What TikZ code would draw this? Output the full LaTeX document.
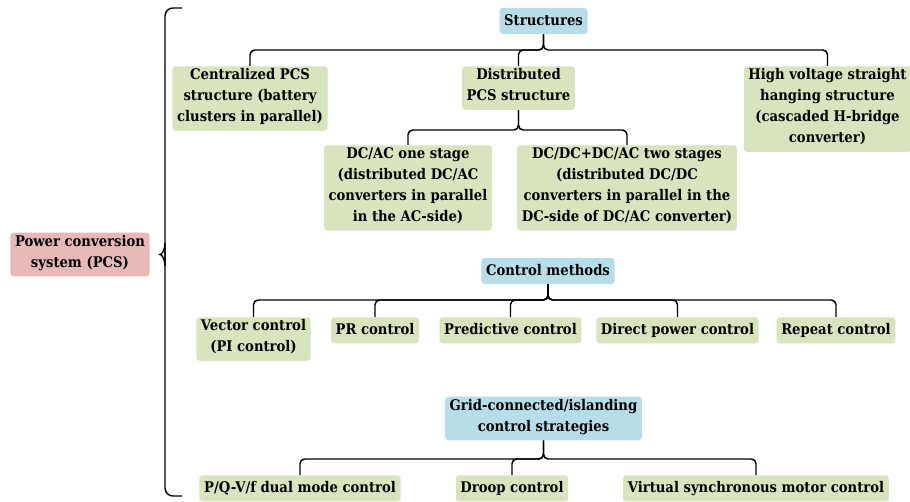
\documentclass[tikz,border=0pt]{standalone}
\usepackage{fontspec}
\setmainfont{DejaVu Serif Condensed}
\usepackage{tikz}

\definecolor{gbox}{RGB}{215,228,189}
\definecolor{bbox}{RGB}{183,222,232}
\definecolor{rbox}{RGB}{230,185,184}

\begin{document}
\begin{tikzpicture}
[x=0.75pt,y=-0.75pt,
 bx/.style={rounded corners=2.5pt,align=center,inner xsep=3.5pt,inner ysep=1.9pt,
   font=\fontsize{11}{15.75}\selectfont\bfseries,
   execute at begin node=\strut,execute at end node=\strut},
 gb/.style={bx,fill=gbox,anchor=north},
 bb/.style={bx,fill=bbox},
 ln/.style={draw=black,line width=1.1pt,rounded corners=3.5pt}]
\useasboundingbox (0,0) rectangle (910,502);

\node[bx,fill=rbox] (pcs) at (80,254.5) {Power conversion\\system (PCS)};

\node[bb] (str) at (543.5,21) {Structures};
\node[gb] (cen) at (250,66) {Centralized PCS\\structure (battery\\clusters in parallel)};
\node[gb] (dis) at (518.5,66) {Distributed\\PCS structure};
\node[gb] (hv) at (827.5,66) {High voltage straight\\hanging structure\\(cascaded H-bridge\\converter)};
\node[gb] (one) at (408,145) {DC/AC one stage\\(distributed DC/AC\\converters in parallel\\in the AC-side)};
\node[gb] (two) at (627,145) {DC/DC+DC/AC two stages\\(distributed DC/DC\\converters in parallel in the\\DC-side of DC/AC converter)};

\node[bb] (ctl) at (548,271) {Control methods};
\node[gb] (vec) at (253.5,317) {Vector control\\(PI control)};
\node[gb] (pr) at (375,317) {PR control};
\node[gb] (pre) at (510.5,317) {Predictive control};
\node[gb] (dpc) at (677.5,317) {Direct power control};
\node[gb] (rep) at (836,317) {Repeat control};

\node[bb] (grid) at (543.5,418.5) {Grid-connected/islanding\\control strategies};
\node[gb] (pq) at (300,475) {P/Q-V/f dual mode control};
\node[gb] (dro) at (512,475) {Droop control};
\node[gb] (vsm) at (756,475) {Virtual synchronous motor control};

\coordinate (s0) at (0,50);
\coordinate (d0) at (0,130);
\coordinate (c0) at (0,300);
\coordinate (g0) at (0,459);

\foreach \c in {cen,dis,hv}
  \draw[ln] (str.south) |- (\c.north |- s0) -- (\c.north);
\foreach \c in {one,two}
  \draw[ln] (dis.south) |- (\c.north |- d0) -- (\c.north);
\foreach \c in {vec,pr,pre,dpc,rep}
  \draw[ln] (ctl.south) |- (\c.north |- c0) -- (\c.north);
\foreach \c in {pq,dro,vsm}
  \draw[ln] (grid.south) |- (\c.north |- g0) -- (\c.north);

\path (pcs.east) +(6,0) coordinate (tip);
\coordinate (bt) at (182,8);
\coordinate (bb) at (182,496);
\draw[ln,rounded corners=6pt] (bt) -| ([yshift=-8]tip -| 165,0);
\draw[ln] ([yshift=-8.5]tip -| 165,0) .. controls ([yshift=-3]tip -| 165,0) and ([xshift=4]tip) .. (tip)
  .. controls ([xshift=4]tip) and ([yshift=3]tip -| 165,0) .. ([yshift=8.5]tip -| 165,0);
\draw[ln,rounded corners=6pt] ([yshift=8]tip -| 165,0) |- (bb);

\end{tikzpicture}
\end{document}
